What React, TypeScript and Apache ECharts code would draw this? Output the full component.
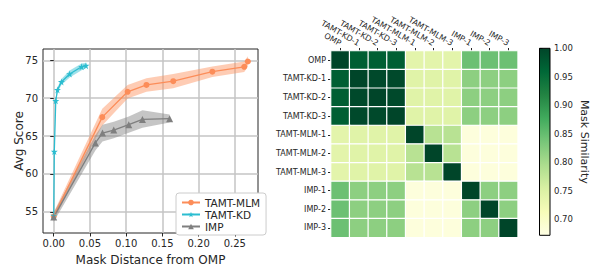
import React, { useEffect, useRef } from "react";
import * as echarts from "echarts";

// ---- Left chart data ----
const MLM_X = [0, 0.067, 0.102, 0.128, 0.165, 0.219, 0.263, 0.268];
const MLM_Y = [54.4, 67.5, 70.85, 71.75, 72.25, 73.5, 74.15, 74.85];
const MLM_LO = [53.9, 66.4, 69.95, 70.85, 71.3, 72.8, 73.45, 74.15];
const MLM_HI = [54.9, 68.6, 71.75, 72.65, 73.2, 74.2, 74.85, 75.55];

const KD_X = [0, 0.0008, 0.0028, 0.0052, 0.0106, 0.022, 0.0385, 0.0445];
const KD_Y = [54.5, 62.95, 69.65, 71.1, 72.15, 73.2, 74.15, 74.3];
const KD_LO = [54.2, 62.65, 69.35, 70.75, 71.75, 72.75, 73.7, 73.95];
const KD_HI = [54.8, 63.25, 69.95, 71.45, 72.55, 73.65, 74.6, 74.65];

const IMP_X = [0, 0.0575, 0.0673, 0.0829, 0.1036, 0.1225, 0.16];
const IMP_Y = [54.3, 64.1, 65.4, 65.8, 66.5, 67.2, 67.3];
const IMP_LO = [53.7, 63.1, 64.3, 64.7, 65.45, 66.1, 66.8];
const IMP_HI = [54.9, 65.1, 66.5, 66.9, 67.6, 68.4, 67.85];

const X_TICKS = [0, 0.05, 0.1, 0.15, 0.2, 0.25];
const Y_TICKS = [55, 60, 65, 70, 75];

// ---- Heatmap data ----
const CATS = [
  "OMP",
  "TAMT-KD-1",
  "TAMT-KD-2",
  "TAMT-KD-3",
  "TAMT-MLM-1",
  "TAMT-MLM-2",
  "TAMT-MLM-3",
  "IMP-1",
  "IMP-2",
  "IMP-3",
];
const SIM = [
  [1.0, 0.97, 0.97, 0.97, 0.74, 0.74, 0.74, 0.845, 0.845, 0.845],
  [0.97, 1.0, 0.995, 0.995, 0.745, 0.745, 0.745, 0.82, 0.82, 0.82],
  [0.97, 0.995, 1.0, 0.995, 0.745, 0.745, 0.745, 0.82, 0.82, 0.82],
  [0.97, 0.995, 0.995, 1.0, 0.745, 0.745, 0.745, 0.82, 0.82, 0.82],
  [0.74, 0.745, 0.745, 0.745, 1.0, 0.785, 0.785, 0.68, 0.68, 0.68],
  [0.74, 0.745, 0.745, 0.745, 0.785, 1.0, 0.785, 0.68, 0.68, 0.68],
  [0.74, 0.745, 0.745, 0.745, 0.785, 0.785, 1.0, 0.68, 0.68, 0.68],
  [0.845, 0.82, 0.82, 0.82, 0.68, 0.68, 0.68, 1.0, 0.82, 0.82],
  [0.845, 0.82, 0.82, 0.82, 0.68, 0.68, 0.68, 0.82, 1.0, 0.82],
  [0.845, 0.82, 0.82, 0.82, 0.68, 0.68, 0.68, 0.82, 0.82, 1.0],
];
const CB_MIN = 0.672;
const CB_MAX = 1.0;
const CB_TICKS = [0.7, 0.75, 0.8, 0.85, 0.9, 0.95, 1.0];
const YLGN = [
  "#ffffe5",
  "#f7fcb9",
  "#d9f0a3",
  "#addd8e",
  "#78c679",
  "#41ab5d",
  "#238443",
  "#006837",
  "#004529",
];

const ORANGE = "#fc8d59";
const CYAN = "#2bbdd0";
const GRAY = "#7f7f7f";
const FONT = "DejaVu Sans";
const TXT = "#262626";
const GRID = "#c4c4c4";
const STAR =
  "path://M0,-1 L0.2245,-0.309 L0.951,-0.309 L0.363,0.118 L0.588,0.809 L0,0.382 L-0.588,0.809 L-0.363,0.118 L-0.951,-0.309 L-0.2245,-0.309 Z";

function band(name: string, xs: number[], lo: number[], hi: number[], color: string) {
  return {
    name,
    type: "custom",
    xAxisIndex: 0,
    yAxisIndex: 0,
    silent: true,
    z: 1,
    data: [[xs[0], lo[0]]],
    renderItem: (params: any, api: any) => {
      if (params.dataIndex !== 0) return null;
      const up = xs.map((x, i) => api.coord([x, hi[i]]));
      const dn = xs.map((x, i) => api.coord([x, lo[i]])).reverse();
      return {
        type: "polygon",
        shape: { points: up.concat(dn) },
        style: { fill: color, opacity: 0.45 },
      };
    },
  };
}

function line(name: string, xs: number[], ys: number[], color: string, symbol: string, size: number) {
  return {
    name,
    type: "line",
    xAxisIndex: 0,
    yAxisIndex: 0,
    z: 3,
    data: xs.map((x, i) => [x, ys[i]]),
    symbol,
    symbolSize: size,
    showSymbol: true,
    color,
    lineStyle: { color, width: 1.3 },
    itemStyle: { color },
  };
}

export default function App() {
  const ref = useRef<HTMLDivElement>(null);
  useEffect(() => {
    if (!ref.current) return;
    const chart = echarts.init(ref.current, null, { renderer: "svg" });
    const heat: any[] = [];
    SIM.forEach((row, r) => row.forEach((v, c) => heat.push([c, r, v])));
    const option: any = {
      animation: false,
      textStyle: { fontFamily: FONT },
      legend: {
        data: ["TAMT-MLM", "TAMT-KD", "IMP"],
        orient: "vertical",
        left: 176,
        top: 193,
        itemWidth: 18,
        itemHeight: 7,
        itemGap: 1,
        padding: [4, 6, 3, 5],
        borderColor: "#cccccc",
        borderWidth: 1,
        borderRadius: 3,
        backgroundColor: "#ffffff",
        textStyle: { fontSize: 10.5, color: TXT, fontFamily: FONT },
      },
      visualMap: {
        type: "continuous",
        show: false,
        min: CB_MIN,
        max: CB_MAX,
        seriesIndex: 6,
        dimension: 2,
        inRange: { color: YLGN },
      },
      grid: [
        { left: 43, top: 49, width: 215, height: 190, show: true, borderColor: "#262626", borderWidth: 1, backgroundColor: "transparent" },
        { left: 331, top: 51, width: 186.7, height: 186.3 },
        { left: 539.5, top: 48.3, width: 10.5, height: 187 },
      ],
      xAxis: [
        {
          gridIndex: 0,
          type: "value",
          min: -0.0148,
          max: 0.282,
          axisLine: { show: false },
          axisTick: { show: true, length: 3.5, customValues: X_TICKS, lineStyle: { color: TXT } },
          axisLabel: {
            customValues: X_TICKS,
            formatter: (v: number) => v.toFixed(2),
            fontSize: 10,
            color: TXT,
            margin: 5,
            fontFamily: FONT,
          },
          splitLine: { show: true, lineStyle: { color: GRID, width: 1.5 } },
          name: "Mask Distance from OMP",
          nameLocation: "middle",
          nameGap: 21,
          nameMoveOverlap: false,
          nameTextStyle: { fontSize: 12, color: TXT, fontFamily: FONT },
        },
        {
          gridIndex: 1,
          type: "category",
          data: CATS,
          position: "top",
          axisLine: { show: false },
          axisTick: { show: true, length: 3, alignWithLabel: true, lineStyle: { color: TXT } },
          axisLabel: { rotate: 30, fontSize: 8, color: TXT, interval: 0, margin: 7, fontFamily: FONT },
          splitLine: { show: false },
        },
        { gridIndex: 2, type: "value", min: 0, max: 1, show: false },
      ],
      yAxis: [
        {
          gridIndex: 0,
          type: "value",
          min: 52.2,
          max: 76.5,
          axisLine: { show: false },
          axisTick: { show: true, length: 3.5, customValues: Y_TICKS, lineStyle: { color: TXT } },
          axisLabel: { customValues: Y_TICKS, fontSize: 10, color: TXT, margin: 5, fontFamily: FONT },
          splitLine: { show: true, lineStyle: { color: GRID, width: 1.5 } },
          name: "Avg Score",
          nameLocation: "middle",
          nameGap: 18,
          nameMoveOverlap: false,
          nameTextStyle: { fontSize: 12, color: TXT, fontFamily: FONT },
        },
        {
          gridIndex: 1,
          type: "category",
          data: CATS,
          inverse: true,
          axisLine: { show: false },
          axisTick: { show: true, length: 3, alignWithLabel: true, lineStyle: { color: TXT } },
          axisLabel: { fontSize: 8, color: TXT, interval: 0, margin: 5, fontFamily: FONT },
          splitLine: { show: false },
        },
        {
          gridIndex: 2,
          type: "value",
          min: CB_MIN,
          max: CB_MAX,
          position: "right",
          axisLine: { show: false },
          axisTick: { show: true, length: 3, customValues: CB_TICKS, lineStyle: { color: "#000" } },
          axisLabel: {
            customValues: CB_TICKS,
            formatter: (v: number) => v.toFixed(2),
            fontSize: 8.5,
            color: TXT,
            margin: 4,
            fontFamily: FONT,
          },
          splitLine: { show: false },
          name: "Mask Similarity",
          nameLocation: "middle",
          nameRotate: -90,
          nameGap: 29,
          nameTextStyle: { fontSize: 11, color: TXT, fontFamily: FONT },
        },
      ],
      series: [
        band("MLM band", MLM_X, MLM_LO, MLM_HI, ORANGE),
        band("KD band", KD_X, KD_LO, KD_HI, CYAN),
        band("IMP band", IMP_X, IMP_LO, IMP_HI, GRAY),
        line("TAMT-MLM", MLM_X, MLM_Y, ORANGE, "circle", 6),
        line("TAMT-KD", KD_X, KD_Y, CYAN, STAR, 7),
        line("IMP", IMP_X, IMP_Y, GRAY, "triangle", 7),
        {
          name: "sim",
          type: "heatmap",
          xAxisIndex: 1,
          yAxisIndex: 1,
          data: heat,
          itemStyle: { borderColor: "#ffffff", borderWidth: 1.2 },
        },
        {
          name: "colorbar",
          type: "custom",
          xAxisIndex: 2,
          yAxisIndex: 2,
          silent: true,
          data: [[0, CB_MIN]],
          renderItem: (params: any, api: any) => {
            const p0 = api.coord([0, CB_MAX]);
            const p1 = api.coord([1, CB_MIN]);
            return {
              type: "rect",
              shape: { x: p0[0], y: p0[1], width: p1[0] - p0[0], height: p1[1] - p0[1] },
              style: {
                fill: new echarts.graphic.LinearGradient(
                  0,
                  1,
                  0,
                  0,
                  YLGN.map((c, i) => ({ offset: i / (YLGN.length - 1), color: c }))
                ),
                stroke: "#000",
                lineWidth: 1,
              },
            };
          },
        },
      ],
    };
    chart.setOption(option);
    return () => chart.dispose();
  }, []);
  return (
    <div
      ref={ref}
      style={{ position: "absolute", left: 0, top: 0, width: 594, height: 271, background: "#fff" }}
    />
  );
}
